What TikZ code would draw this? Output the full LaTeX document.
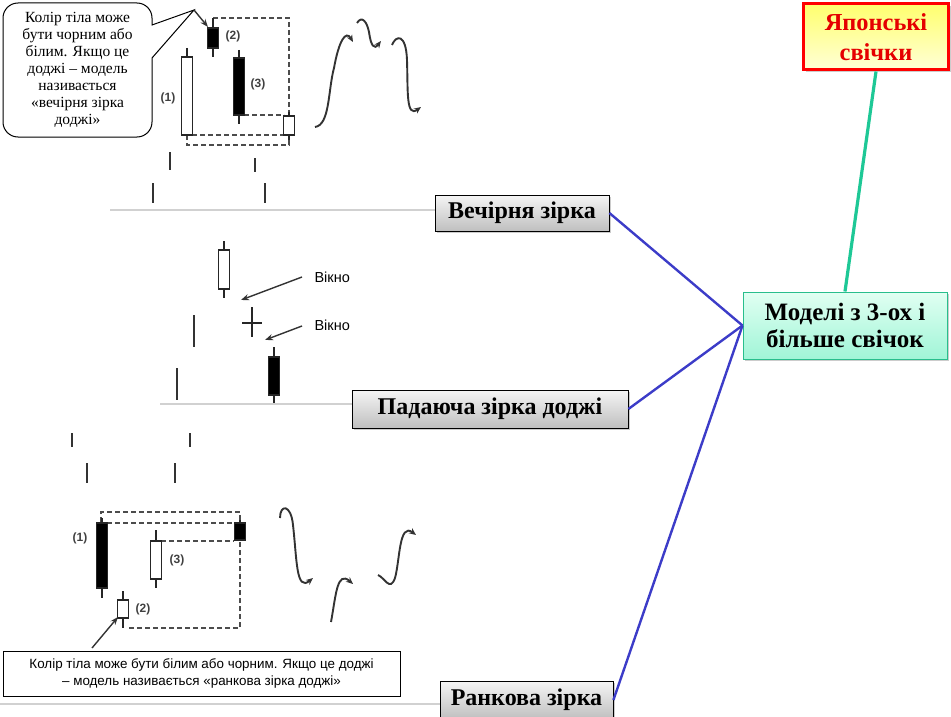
\documentclass[tikz,border=0pt]{standalone}
\usepackage{fontspec}
\setmainfont{Liberation Serif}
\newfontfamily\arialf{Liberation Sans}
\usetikzlibrary{arrows.meta,shadows}
\definecolor{linkblue}{RGB}{60,60,200}
\definecolor{linkgreen}{RGB}{30,200,150}
\definecolor{mintbot}{RGB}{160,245,215}
\definecolor{minttop}{RGB}{225,255,242}
\definecolor{mintdraw}{RGB}{40,190,140}
\definecolor{yeltop}{RGB}{255,255,110}
\definecolor{yelbot}{RGB}{255,255,215}
\newcommand\mycandle[6]{%
  \draw[candle] (#2,#3) -- (#2,#4);
  \draw[candle] (#2,#5) -- (#2,#6);
  \draw[candle,fill=#1] (#2-5.5,#4) rectangle (#2+5.5,#5);}
\begin{document}
\begin{tikzpicture}[x=1pt,y=-1pt,
  candle/.style={line width=1.7pt,black!85},
  dashln/.style={line width=1.5pt,black!70,dash pattern=on 5pt off 3pt},
  tickln/.style={line width=1.7pt,black!80},
  squig/.style={line width=1.9pt,black!80,-{Stealth[length=7pt,width=6pt]}},
  pointer/.style={line width=1.4pt,black!80,-{Stealth[length=8pt,width=6pt]}},
  glabel/.style={font=\arialf\bfseries\fontsize{12}{13}\selectfont,text=black!75},
  wlabel/.style={font=\arialf\fontsize{14.5}{16}\selectfont,anchor=west},
  pbox/.style={draw=black,line width=0.8pt,top color=black!4,bottom color=black!25,
    drop shadow={shadow xshift=2pt,shadow yshift=-2pt,opacity=0.4},
    font=\bfseries\fontsize{24}{28}\selectfont,inner sep=0pt},
  grayln/.style={black!18,line width=1.2pt},
  blueln/.style={linkblue,line width=2.4pt},
  greenln/.style={linkgreen,line width=3.2pt}]
\useasboundingbox (0,0) rectangle (951,717);

% ---------------- Top: evening star ----------------
\draw[fill=white,line width=1pt] (194,10) -- (152,25) [rounded corners=15pt] -- (152,3) -- (3,3) -- (3,137) -- (152,137) [sharp corners] -- (152,58) -- cycle;
\node[font=\fontsize{15.5}{17}\selectfont,align=center] (cl) at (77.5,70)
  {Колір тіла може\\бути чорним або\\білим. Якщо це\\доджі – модель\\називається\\«вечірня зірка\\доджі»};
\coordinate (clapex) at (194,10);
\coordinate (c2top) at (208,27);
\draw[pointer] (clapex) -- (c2top);

\draw[dashln] (213,18) -- (289,18) -- (289,116);
\draw[dashln] (244,115) -- (284,115);
\draw[dashln] (192,135) -- (284,135);
\draw[dashln] (187,135) -- (187,145) -- (289,145) -- (289,135);
\mycandle{white}{187}{48}{57}{135}{135}
\mycandle{black}{213}{18}{28}{48}{57}
\mycandle{black}{239}{50}{58}{115}{124}
\mycandle{white}{289}{112}{116}{135}{140}
\node[glabel] (l1a) at (168,98) {(1)};
\node[glabel] (l2a) at (233,36) {(2)};
\node[glabel] (l3a) at (258,84) {(3)};

\draw[squig] (315,127) .. controls (330,125) and (328,90) .. (334,68) .. controls (339,40) and (346,30) .. (353,42);
\draw[squig] (357,23) .. controls (362,15) and (367,22) .. (369,32) .. controls (371,46) and (374,50) .. (381,41);
\draw[squig] (392,45) .. controls (396,35) and (406,33) .. (407,60) .. controls (408,92) and (406,118) .. (421,107);

\draw[tickln] (170,152) -- (170,170);
\draw[tickln] (255,158) -- (255,172);
\draw[tickln] (153,183) -- (153,203);
\draw[tickln] (265,183) -- (265,203);
\draw[grayln] (110,210) -- (435,210);

% ---------------- Middle: falling star doji ----------------
\mycandle{white}{224}{241}{250}{289}{298}
\draw[candle] (242,323) -- (262,323);
\draw[candle] (252,307) -- (252,337);
\mycandle{black}{274}{347}{357}{395}{403}
\draw[tickln] (194,315) -- (194,347);
\draw[tickln] (177,368) -- (177,400);
\node[wlabel] (w1) at (311,277) {Вікно};
\node[wlabel] (w2) at (311,325) {Вікно};
\coordinate (gap1) at (241,300);
\coordinate (gap2) at (265,340);
\draw[pointer] (w1.west) ++(-9,0) coordinate (w1s) -- (gap1);
\draw[pointer] (w2.west) ++(-9,1) coordinate (w2s) -- (gap2);
\draw[grayln] (160,404) -- (352,404);

% ---------------- Bottom: morning star ----------------
\draw[tickln] (72,433) -- (72,447);
\draw[tickln] (190,433) -- (190,447);
\draw[tickln] (87,463) -- (87,483);
\draw[tickln] (175,463) -- (175,483);

\draw[dashln] (101,522) -- (101,512) -- (240,512) -- (240,522);
\draw[dashln] (107,523) -- (234,523);
\draw[dashln] (161,541) -- (234,541);
\draw[dashln] (129,628) -- (240,628) -- (240,540);
\mycandle{black}{102}{518}{523}{588}{598}
\mycandle{black}{240}{520}{523}{540}{540}
\mycandle{white}{156}{530}{541}{579}{588}
\mycandle{white}{123}{591}{600}{618}{628}
\node[glabel] (l1b) at (80,538) {(1)};
\node[glabel] (l2b) at (143,609) {(2)};
\node[glabel] (l3b) at (177,560) {(3)};

\draw[squig] (280,518) .. controls (280,504) and (291,504) .. (293,525) .. controls (297,560) and (296,592) .. (313,578);
\draw[squig] (331,622) .. controls (336,595) and (337,570) .. (353,584);
\draw[squig] (378,575) .. controls (385,578) and (390,592) .. (395,578) .. controls (400,560) and (399,522) .. (416,535);

\node[draw=black,line width=0.9pt,fill=white,minimum width=397pt,minimum height=45pt,inner sep=0pt,
  font=\arialf\fontsize{13.4}{17}\selectfont,align=center] (tb) at (201.5,673.5)
  {Колір тіла може бути білим або чорним. Якщо це доджі\\– модель називається «ранкова зірка доджі»};
\coordinate (tbs) at (92,648);
\coordinate (c2b) at (118,617);
\draw[pointer] (tbs) -- (c2b);
\draw[grayln] (0,704) -- (440,704);

% ---------------- Right: hierarchy ----------------
\node[pbox,minimum width=174pt,minimum height=36pt] (ve) at (522,213) {Вечірня зірка};
\node[pbox,minimum width=276pt,minimum height=38pt] (pa) at (490,409) {Падаюча зірка доджі};
\node[pbox,minimum width=173pt,minimum height=38pt] (ra) at (526.5,700) {Ранкова зірка};

\node[draw=red,line width=3pt,top color=yeltop,bottom color=yelbot,
  drop shadow={shadow xshift=2pt,shadow yshift=-2pt,opacity=0.4},
  minimum width=145pt,minimum height=66pt,inner sep=0pt,align=center,text=red!90!black,
  font=\bfseries\fontsize{24.4}{30}\selectfont] (jp) at (876,37) {Японські\\свічки};
\node[draw=mintdraw,line width=1pt,top color=minttop,bottom color=mintbot,
  drop shadow={shadow xshift=2pt,shadow yshift=-2pt,opacity=0.4},
  minimum width=204pt,minimum height=67pt,inner sep=0pt,align=center,
  font=\bfseries\fontsize{25}{27}\selectfont] (md) at (845,325.5) {Моделі з 3-ох і\\більше свічок};

\draw[greenln] (jp.south) -- (md.north);
\draw[blueln] (ve.east) -- (md.west);
\draw[blueln] (pa.east) -- (md.west);
\draw[blueln] (ra.east) -- (md.west);
\end{tikzpicture}
\end{document}
